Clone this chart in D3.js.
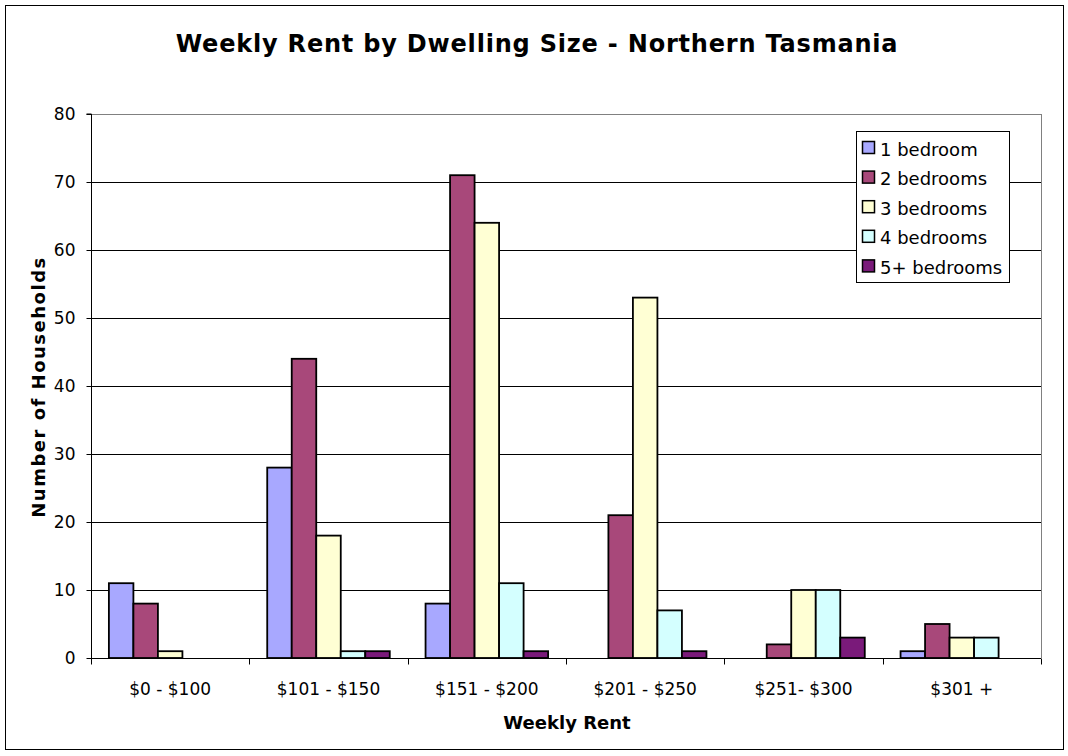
<!DOCTYPE html>
<html><head><meta charset="utf-8">
<script src="https://cdn.jsdelivr.net/npm/d3@7"></script>
<style>body{margin:0;background:#fff;} svg{display:block;}</style>
</head><body>
<script>
const categories = ["$0 - $100","$101 - $150","$151 - $200","$201 - $250","$251- $300","$301 +"];
const seriesNames = ["1 bedroom","2 bedrooms","3 bedrooms","4 bedrooms","5+ bedrooms"];
const oneBed   = [11, 28, 8, 0, 0, 1];
const twoBed   = [8, 44, 71, 21, 2, 5];
const threeBed = [1, 18, 64, 53, 10, 3];
const fourBed  = [0, 1, 11, 7, 10, 3];
const fiveBed  = [0, 1, 1, 1, 3, 0];
const yTicks = [0,10,20,30,40,50,60,70,80];
const colors = ["#a8a8ff","#a8487a","#ffffd4","#d4ffff","#7a1a7a"];
const series = [oneBed, twoBed, threeBed, fourBed, fiveBed];

(function(){
const W = 1068, H = 756;
const svg = d3.select("body").append("svg").attr("width", W).attr("height", H);
const font = "Verdana, 'DejaVu Sans', sans-serif";

svg.append("rect").attr("x",5.5).attr("y",5.5).attr("width",1058).attr("height",744)
  .attr("fill","#fff").attr("stroke","#000").attr("stroke-width",1);

const pL = 91, pR = 1041, pT = 114, pB = 658;
const x0 = d3.scaleBand().domain(categories).range([pL, pR]).paddingInner(0).paddingOuter(0);
const x1 = d3.scaleBand().domain(seriesNames).range([0, x0.bandwidth()]).paddingInner(0).paddingOuter(0.73);
const y = d3.scaleLinear().domain([0,80]).range([pB, pT]);

// gridlines
svg.append("g").selectAll("line").data(yTicks.filter(t=>t>0 && t<80)).join("line")
  .attr("x1", pL).attr("x2", pR).attr("y1", d=>y(d)+0.5).attr("y2", d=>y(d)+0.5)
  .attr("stroke","#000").attr("stroke-width",1);
svg.append("line").attr("x1",pL).attr("x2",pR).attr("y1",pT+0.5).attr("y2",pT+0.5).attr("stroke","#808080");
svg.append("line").attr("x1",pR+0.5).attr("x2",pR+0.5).attr("y1",pT).attr("y2",pB).attr("stroke","#808080");

// bars
const gBars = svg.append("g");
categories.forEach((c, ci) => {
  series.forEach((s, si) => {
    const v = s[ci];
    if (v <= 0) return;
    gBars.append("rect")
      .attr("x", x0(c) + x1(seriesNames[si]))
      .attr("y", y(v))
      .attr("width", x1.bandwidth())
      .attr("height", y(0) - y(v))
      .attr("fill", colors[si]).attr("stroke","#000").attr("stroke-width",1.8);
  });
});

// y axis
const yAxis = d3.axisLeft(y).tickValues(yTicks).tickSize(5).tickPadding(11);
const gy = svg.append("g").attr("transform",`translate(${pL+0.5},0)`).call(yAxis);
gy.select(".domain").attr("d", `M-5,${pT}H0V${pB}`).attr("stroke","#000");
gy.selectAll("text").attr("font-family",font).attr("font-size",17).attr("fill","#000");
gy.selectAll(".tick line").attr("stroke","#000");

// x axis
const gx = svg.append("g").attr("transform",`translate(0,${pB+0.5})`);
gx.append("line").attr("x1",pL).attr("x2",pR).attr("stroke","#000");
const bounds = categories.map(c=>x0(c)).concat([pR]);
gx.selectAll("line.tk").data(bounds).join("line").attr("class","tk")
  .attr("x1",d=>Math.round(d)+0.5).attr("x2",d=>Math.round(d)+0.5).attr("y1",0).attr("y2",6).attr("stroke","#000");
gx.selectAll("text").data(categories).join("text")
  .attr("x", d=>x0(d)+x0.bandwidth()/2).attr("y", 36.5)
  .attr("text-anchor","middle").attr("font-family",font).attr("font-size",17).text(d=>d);

// titles
svg.append("text").attr("x",537).attr("y",52).attr("text-anchor","middle")
  .attr("font-family",font).attr("font-weight","bold").attr("font-size",24).attr("letter-spacing",0.8)
  .text("Weekly Rent by Dwelling Size - Northern Tasmania");
svg.append("text").attr("x",567).attr("y",729).attr("text-anchor","middle")
  .attr("font-family",font).attr("font-weight","bold").attr("font-size",18).text("Weekly Rent");
svg.append("text").attr("transform","translate(45,387) rotate(-90)").attr("text-anchor","middle")
  .attr("font-family",font).attr("font-weight","bold").attr("font-size",18).attr("letter-spacing",1.5)
  .text("Number of Households");

// legend
const lg = svg.append("g");
lg.append("rect").attr("x",856.5).attr("y",131.5).attr("width",153).attr("height",151)
  .attr("fill","#fff").attr("stroke","#000");
seriesNames.forEach((n,i)=>{
  const base = 155.5 + i*29.6;
  lg.append("rect").attr("x",862.5).attr("y",base-14).attr("width",12).attr("height",12)
    .attr("fill",colors[i]).attr("stroke","#000").attr("stroke-width",1.5);
  lg.append("text").attr("x",880).attr("y",base).attr("font-family",font).attr("font-size",18).text(n);
});
})();
</script>
</body></html>
